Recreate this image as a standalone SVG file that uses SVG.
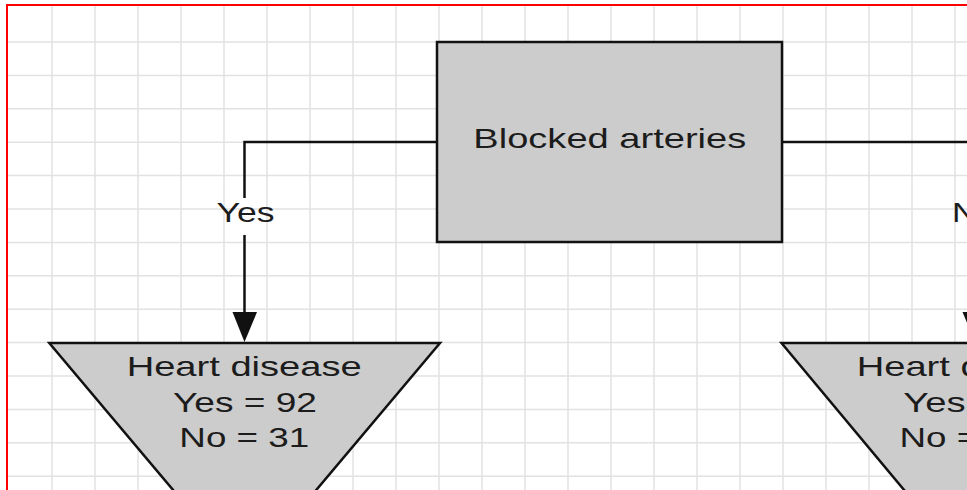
<svg xmlns="http://www.w3.org/2000/svg" width="967" height="490" viewBox="0 0 967 490">
<defs>
<style>
.grid line{stroke:#e2e2e2;stroke-width:1.5}
.shape{fill:#cccccc;stroke:#111;stroke-width:2.5;stroke-linejoin:miter}
.conn{fill:none;stroke:#111;stroke-width:2.5}
.head{fill:#111;stroke:none}
.t{font-family:"Liberation Sans",Arial,sans-serif;font-size:28px;fill:#1c1c1c}
.border{stroke:#f00;stroke-width:2;fill:none}
</style>
</defs>
<rect width="967" height="490" fill="#fff"/>
<g class="grid" id="grid">
<line x1="52" y1="5" x2="52" y2="490"/><line x1="95" y1="5" x2="95" y2="490"/><line x1="138" y1="5" x2="138" y2="490"/><line x1="181" y1="5" x2="181" y2="490"/><line x1="224" y1="5" x2="224" y2="490"/><line x1="267" y1="5" x2="267" y2="490"/><line x1="310" y1="5" x2="310" y2="490"/><line x1="353" y1="5" x2="353" y2="490"/><line x1="396" y1="5" x2="396" y2="490"/><line x1="439" y1="5" x2="439" y2="490"/><line x1="482" y1="5" x2="482" y2="490"/><line x1="525" y1="5" x2="525" y2="490"/><line x1="568" y1="5" x2="568" y2="490"/><line x1="611" y1="5" x2="611" y2="490"/><line x1="654" y1="5" x2="654" y2="490"/><line x1="697" y1="5" x2="697" y2="490"/><line x1="740" y1="5" x2="740" y2="490"/><line x1="783" y1="5" x2="783" y2="490"/><line x1="826" y1="5" x2="826" y2="490"/><line x1="869" y1="5" x2="869" y2="490"/><line x1="912" y1="5" x2="912" y2="490"/><line x1="955" y1="5" x2="955" y2="490"/>
<line x1="7" y1="42" x2="967" y2="42"/><line x1="7" y1="75.4" x2="967" y2="75.4"/><line x1="7" y1="108.8" x2="967" y2="108.8"/><line x1="7" y1="142.2" x2="967" y2="142.2"/><line x1="7" y1="175.6" x2="967" y2="175.6"/><line x1="7" y1="209" x2="967" y2="209"/><line x1="7" y1="242.4" x2="967" y2="242.4"/><line x1="7" y1="275.8" x2="967" y2="275.8"/><line x1="7" y1="309.2" x2="967" y2="309.2"/><line x1="7" y1="342.6" x2="967" y2="342.6"/><line x1="7" y1="376" x2="967" y2="376"/><line x1="7" y1="409.4" x2="967" y2="409.4"/><line x1="7" y1="442.8" x2="967" y2="442.8"/><line x1="7" y1="476.2" x2="967" y2="476.2"/>
</g>
<path class="border" d="M7,490 V5 H967"/>
<g id="connectors">
<path class="conn" d="M437,142 H244.5 V198 M244.5,235 V314"/>
<polygon class="head" points="232.5,312 257,312 244.5,342"/>
<text class="t" x="216.5" y="221.7" textLength="58" lengthAdjust="spacingAndGlyphs">Yes</text>
<path class="conn" d="M782,142 H975 V198 M975,235 V314"/>
<polygon class="head" points="962.5,312 987.5,312 975,342"/>
<text class="t" x="952" y="221.7" textLength="44" lengthAdjust="spacingAndGlyphs">No</text>
</g>
<g id="blocked-arteries">
<rect class="shape" x="437" y="42" width="345" height="200"/>
<text class="t" x="473.3" y="148.3" textLength="273" lengthAdjust="spacingAndGlyphs">Blocked arteries</text>
</g>
<g id="heart-disease-yes">
<polygon class="shape" points="49.3,343 440,343 244.7,575"/>
<text class="t" x="126.7" y="376" textLength="235" lengthAdjust="spacingAndGlyphs">Heart disease</text>
<text class="t" x="173" y="411.7" textLength="144" lengthAdjust="spacingAndGlyphs">Yes = 92</text>
<text class="t" x="179.3" y="446.7" textLength="130" lengthAdjust="spacingAndGlyphs">No = 31</text>
</g>
<g id="heart-disease-no">
<polygon class="shape" points="781.5,343 1168.5,343 975,575"/>
<text class="t" x="856.7" y="376" textLength="125" lengthAdjust="spacingAndGlyphs">Heart d</text>
<text class="t" x="903.3" y="411.7" textLength="62.4" lengthAdjust="spacingAndGlyphs">Yes</text>
<text class="t" x="899.4" y="446.7" textLength="78.8" lengthAdjust="spacingAndGlyphs">No =</text>
</g>
</svg>
